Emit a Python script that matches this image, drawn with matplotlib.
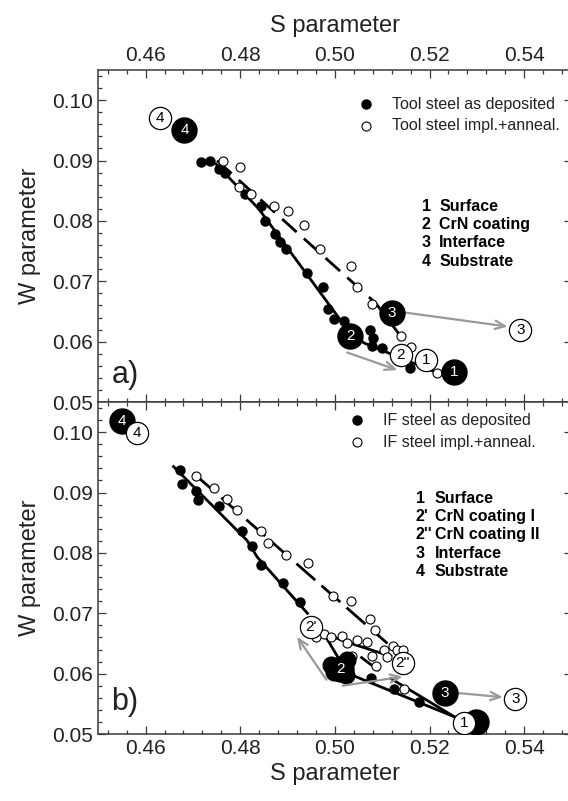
import matplotlib

matplotlib.use("Agg")
import matplotlib.pyplot as plt
from matplotlib.ticker import MultipleLocator

plt.rcParams["font.family"] = ["Liberation Sans", "DejaVu Sans"]

# ---- panel a: tool steel ----
a_dep_s = [0.4718, 0.4735, 0.4754, 0.4767, 0.4811, 0.4843, 0.4853, 0.4874, 0.4883, 0.4897,
           0.4942, 0.4975, 0.4985, 0.4998, 0.5019, 0.5074, 0.5081, 0.5078, 0.5100, 0.5159]
a_dep_w = [0.0898, 0.0900, 0.0886, 0.0879, 0.0845, 0.0825, 0.0800, 0.0778, 0.0765, 0.0753,
           0.0714, 0.0690, 0.0654, 0.0638, 0.0635, 0.0620, 0.0606, 0.0593, 0.0589, 0.0556]
a_ann_s = [0.4763, 0.4800, 0.4798, 0.4823, 0.4871, 0.4901, 0.4934, 0.4968, 0.5033, 0.5047,
           0.5079, 0.5139, 0.5160, 0.5215]
a_ann_w = [0.0900, 0.0889, 0.0856, 0.0845, 0.0824, 0.0817, 0.0793, 0.0754, 0.0725, 0.0690,
           0.0663, 0.0609, 0.0591, 0.0548]
a_dep_fit_s = [0.4749, 0.4839, 0.5019, 0.5061, 0.5217]
a_dep_fit_w = [0.0894, 0.0820, 0.0628, 0.0598, 0.0548]
a_ann_fit_s = [0.4751, 0.5086, 0.5139]
a_ann_fit_w = [0.0900, 0.0664, 0.0609]
# big numbered markers: label, S, W
a_big_dep = [("4", 0.4682, 0.0950), ("2", 0.5032, 0.0610), ("3", 0.5120, 0.0648), ("1", 0.5251, 0.0549)]
a_big_ann = [("4", 0.4631, 0.0970), ("3", 0.5392, 0.0619), ("2", 0.5139, 0.0578), ("1", 0.5192, 0.0570)]
a_arrows = [((0.5150, 0.0648), (0.5365, 0.0625)), ((0.5026, 0.0582), (0.5132, 0.0553))]
a_legend = ["Tool steel as deposited", "Tool steel impl.+anneal."]
a_layer_num = ["1", "2", "3", "4"]
a_layer_txt = ["Surface", "CrN coating", "Interface", "Substrate"]

# ---- panel b: IF steel ----
b_dep_s = [0.4673, 0.4677, 0.4707, 0.4710, 0.4756, 0.4804, 0.4825, 0.4843, 0.4891, 0.4927,
           0.5076, 0.5124, 0.5177]
b_dep_w = [0.0937, 0.0915, 0.0903, 0.0888, 0.0877, 0.0836, 0.0812, 0.0780, 0.0750, 0.0718,
           0.0593, 0.0575, 0.0553]
b_ann_s = [0.4707, 0.4745, 0.4771, 0.4794, 0.4844, 0.4859, 0.4897, 0.4944, 0.4996, 0.5035,
           0.5074, 0.5084, 0.4977, 0.4991, 0.5014, 0.5026, 0.5047, 0.5067, 0.5037, 0.5079,
           0.5086, 0.5104, 0.5110, 0.5122, 0.5131, 0.5143, 0.5145, 0.4959]
b_ann_w = [0.0928, 0.0907, 0.0890, 0.0871, 0.0837, 0.0816, 0.0797, 0.0784, 0.0728, 0.0720,
           0.0690, 0.0673, 0.0666, 0.0660, 0.0663, 0.0651, 0.0656, 0.0652, 0.0630, 0.0629,
           0.0613, 0.0639, 0.0628, 0.0646, 0.0640, 0.0640, 0.0575, 0.0660]
b_dep_fit = [([0.4659, 0.4814, 0.4836, 0.4942], [0.0943, 0.0821, 0.0793, 0.0700]),
             ([0.4977, 0.5008], [0.0666, 0.0625]),
             ([0.5019, 0.5273], [0.0603, 0.0522])]
b_ann_dash = [([0.4707, 0.5111], [0.0928, 0.0650]),
              ([0.5054, 0.5093], [0.0628, 0.0605])]
b_ann_solid = [([0.4970, 0.5026, 0.5118], [0.0669, 0.0652, 0.0629]),
               ([0.5118, 0.5260], [0.0592, 0.0525])]
b_blob_s = [0.4991, 0.5026, 0.5023, 0.4998]
b_blob_w = [0.0614, 0.0622, 0.0597, 0.0602]
b_big_dep = [("4", 0.4550, 0.1018), ("2", 0.5012, 0.0608), ("3", 0.5232, 0.0568), ("", 0.5298, 0.0520)]
b_big_ann = [("4", 0.4581, 0.0998), ("2'", 0.4950, 0.0677), ("2''", 0.5143, 0.0617),
             ("3", 0.5381, 0.0558), ("1", 0.5272, 0.0518)]
b_arrows = [((0.4982, 0.0590), (0.4920, 0.0661)), ((0.5016, 0.0580), (0.5143, 0.0595)),
            ((0.5259, 0.0568), (0.5355, 0.0561))]
b_legend = ["IF steel as deposited", "IF steel impl.+anneal."]
b_layer_num = ["1", "2'", "2''", "3", "4"]
b_layer_txt = ["Surface", "CrN coating I", "CrN coating II", "Interface", "Substrate"]

SPINE = "#3a3a3a"
ARROW = "#999999"

fig = plt.figure(figsize=(5.68, 8.01), dpi=100)
ax_a = fig.add_axes([0.1731, 0.4981, 0.8331, 0.4145])
ax_b = fig.add_axes([0.1731, 0.0836, 0.8331, 0.4145])


def style_axis(ax):
    ax.set_xlim(0.45, 0.55)
    ax.set_ylim(0.05, 0.105)
    ax.xaxis.set_major_locator(MultipleLocator(0.02))
    ax.xaxis.set_minor_locator(MultipleLocator(0.004))
    ax.yaxis.set_major_locator(MultipleLocator(0.01))
    ax.yaxis.set_minor_locator(MultipleLocator(0.002))
    ax.xaxis.set_major_formatter(lambda v, p: f"{v:.2f}")
    ax.yaxis.set_major_formatter(lambda v, p: f"{v:.2f}")
    ax.tick_params(which="both", direction="in", top=True, right=True, color=SPINE,
                   labelsize=15, labelcolor="#222222", width=0.9)
    ax.tick_params(which="major", length=6)
    ax.tick_params(which="minor", length=3)
    for sp in ax.spines.values():
        sp.set_color(SPINE)
        sp.set_linewidth(1.1)
    ax.set_ylabel("W parameter", fontsize=17, color="#222222", labelpad=8)


def big_marker(ax, label, s, w, filled):
    if filled:
        ax.plot(s, w, "o", ms=18, mfc="black", mec="black", zorder=5)
        ax.text(s, w, label, color="white", fontsize=11, ha="center", va="center", zorder=6)
    else:
        ax.plot(s, w, "o", ms=16, mfc="white", mec="black", mew=0.9, zorder=5)
        ax.text(s, w, label, color="black", fontsize=11, ha="center", va="center", zorder=6)


def legend_block(ax, labels, mx, tx, ys):
    ax.plot(mx, ys[0], "o", ms=6.5, color="black", transform=ax.transAxes, clip_on=False)
    ax.plot(mx, ys[1], "o", ms=6.5, mfc="white", mec="black", mew=0.8,
            transform=ax.transAxes, clip_on=False)
    for lab, y in zip(labels, ys):
        ax.text(tx, y, lab, transform=ax.transAxes, fontsize=11.5, va="center", color="#222222")


def layer_block(ax, nums, txts, nx, tx, ys):
    for n, t, y in zip(nums, txts, ys):
        ax.text(nx, y, n, transform=ax.transAxes, fontsize=11.5, fontweight="bold", va="center")
        ax.text(tx, y, t, transform=ax.transAxes, fontsize=11.5, fontweight="bold", va="center")


def arrow(ax, start, end):
    ax.annotate("", xy=end, xytext=start,
                arrowprops=dict(arrowstyle="->,head_length=0.7,head_width=0.3",
                                color=ARROW, lw=1.6, shrinkA=0, shrinkB=0), zorder=4)


# panel a
style_axis(ax_a)
ax_a.xaxis.set_ticks_position("both")
ax_a.tick_params(axis="x", labeltop=True, labelbottom=False)
ax_a.xaxis.set_label_position("top")
ax_a.set_xlabel("S parameter", fontsize=17, color="#222222", labelpad=10)
ax_a.plot(a_dep_fit_s, a_dep_fit_w, "-", color="black", lw=2.0, zorder=2)
ax_a.plot(a_ann_fit_s, a_ann_fit_w, "--", color="black", lw=2.0, dashes=(7, 3.5), zorder=2)
ax_a.plot(a_dep_s, a_dep_w, "o", ms=6.5, color="black", zorder=3)
ax_a.plot(a_ann_s, a_ann_w, "o", ms=6.5, mfc="white", mec="black", mew=0.8, zorder=3)
for start, end in a_arrows:
    arrow(ax_a, start, end)
for lab, s, w in a_big_dep:
    big_marker(ax_a, lab, s, w, True)
for lab, s, w in a_big_ann:
    big_marker(ax_a, lab, s, w, False)
legend_block(ax_a, a_legend, 0.566, 0.620, [0.897, 0.832])
layer_block(ax_a, a_layer_num, a_layer_txt, 0.683, 0.720, [0.588, 0.535, 0.480, 0.424])
ax_a.text(0.028, 0.081, "a)", transform=ax_a.transAxes, fontsize=22, va="center", color="#222222")

# panel b
style_axis(ax_b)
ax_b.set_xlabel("S parameter", fontsize=17, color="#222222", labelpad=4)
for xs, ys in b_dep_fit:
    ax_b.plot(xs, ys, "-", color="black", lw=2.0, zorder=2)
for xs, ys in b_ann_dash:
    ax_b.plot(xs, ys, "--", color="black", lw=2.0, dashes=(9, 3), zorder=2)
for xs, ys in b_ann_solid:
    ax_b.plot(xs, ys, "-", color="black", lw=2.0, zorder=2)
ax_b.plot(b_dep_s, b_dep_w, "o", ms=6.5, color="black", zorder=3)
ax_b.plot(b_ann_s, b_ann_w, "o", ms=6.5, mfc="white", mec="black", mew=0.8, zorder=3)
ax_b.plot(b_blob_s, b_blob_w, "o", ms=12, color="black", zorder=4)
for start, end in b_arrows:
    arrow(ax_b, start, end)
for lab, s, w in b_big_dep:
    big_marker(ax_b, lab, s, w, True)
for lab, s, w in b_big_ann:
    big_marker(ax_b, lab, s, w, False)
legend_block(ax_b, b_legend, 0.546, 0.601, [0.9457, 0.879])
layer_block(ax_b, b_layer_num, b_layer_txt, 0.671, 0.711, [0.710, 0.656, 0.601, 0.545, 0.490])
ax_b.text(0.028, 0.0975, "b)", transform=ax_b.transAxes, fontsize=22, va="center", color="#222222")

fig.savefig("out.png", dpi=100)
